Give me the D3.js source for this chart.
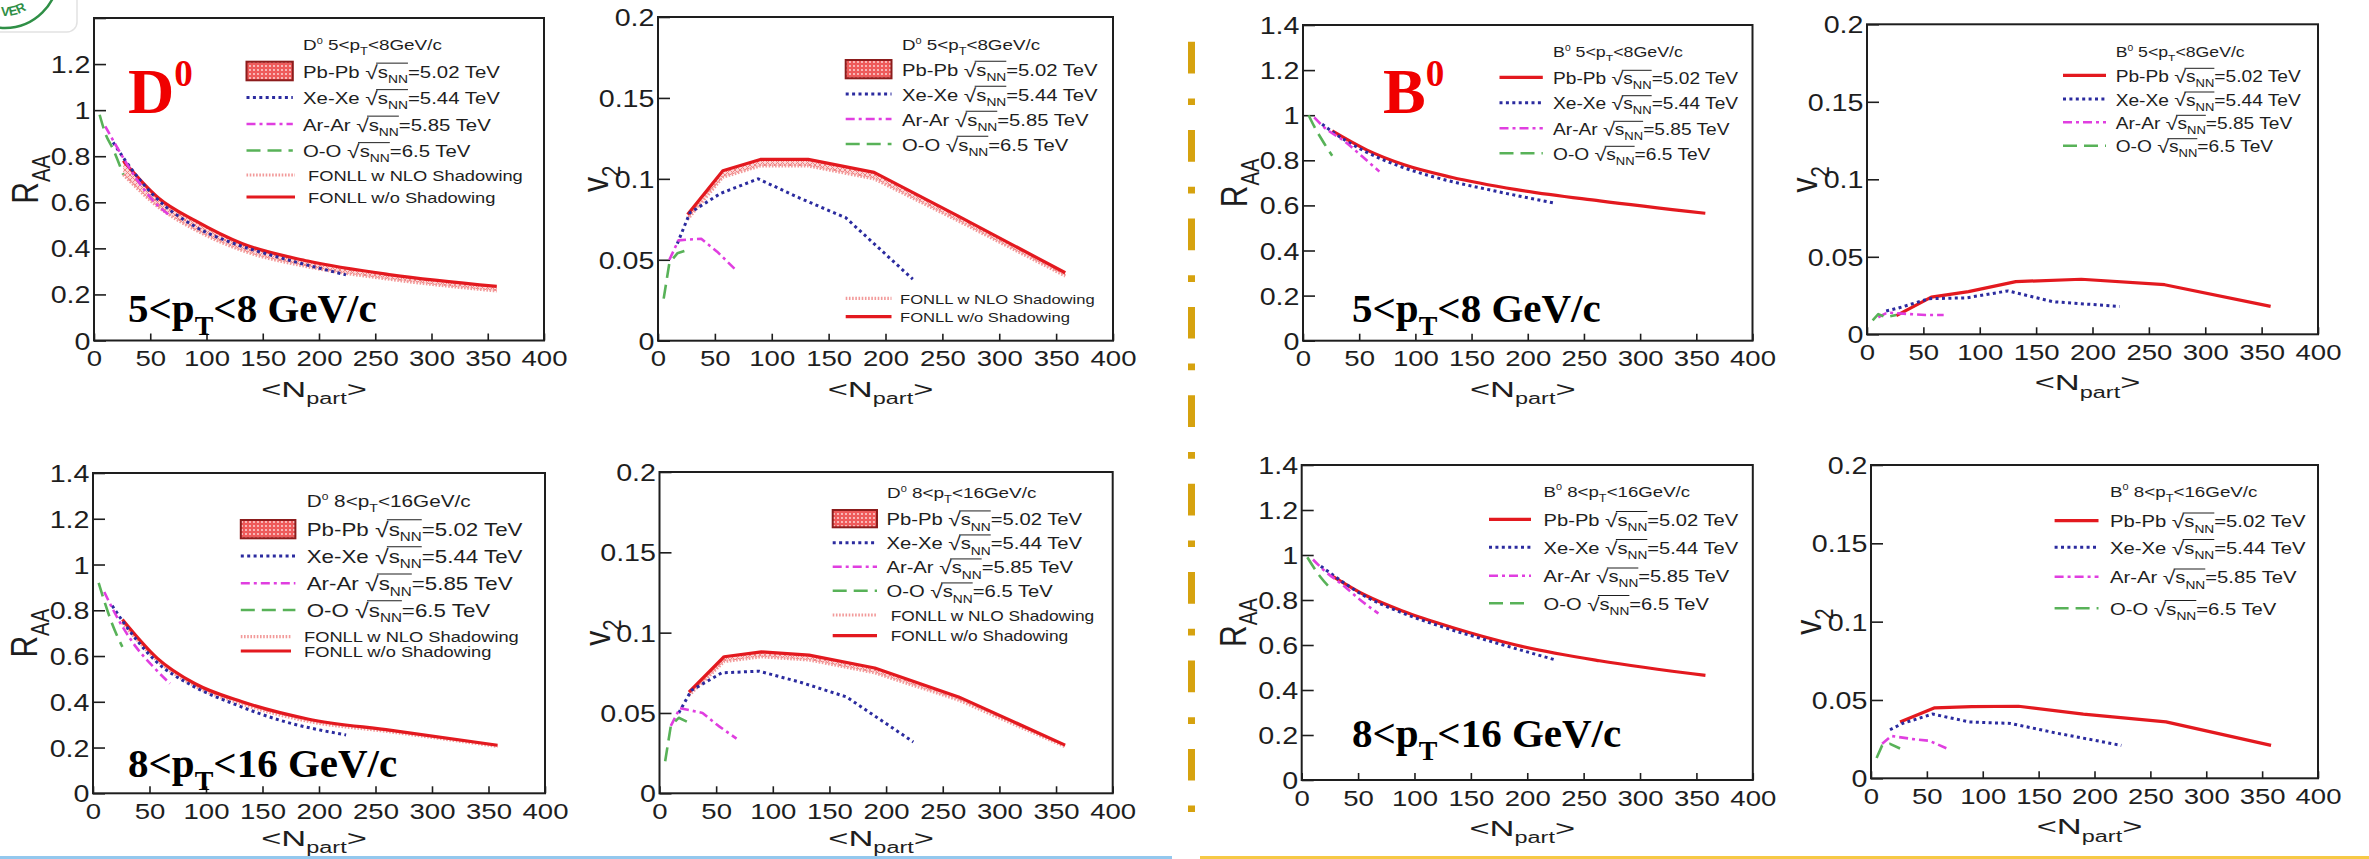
<!DOCTYPE html>
<html>
<head>
<meta charset="utf-8">
<script src="https://cdn.jsdelivr.net/npm/d3@7"></script>
<style>
  html, body { margin: 0; padding: 0; background: #fff; }
  svg { display: block; }
</style>
</head>
<body>
<svg id="fig" width="2369" height="859"></svg>
<script>
// ---------------- data ----------------
// participant numbers of the centrality classes for each collision system
const nPbPb = [26, 57, 90, 132, 190, 264, 358];
const nXeXe = [17, 28, 55, 88, 125, 165, 224];
const nArAr = [10, 18, 38, 52, 68];
const nOO   = [5, 10, 17, 26];

// axis ticks
const nTicks = [0, 50, 100, 150, 200, 250, 300, 350, 400];
const raaTicks = [0, 0.2, 0.4, 0.6, 0.8, 1.0, 1.2, 1.4];
const raaTickLabels = ["0", "0.2", "0.4", "0.6", "0.8", "1", "1.2", "1.4"];
const v2Ticks = [0, 0.05, 0.1, 0.15, 0.2];
const v2TickLabels = ["0", "0.05", "0.1", "0.15", "0.2"];

// collision systems in the legends
const systems  = ["Pb-Pb", "Xe-Xe", "Ar-Ar", "O-O"];
const energies = ["5.02", "5.44", "5.85", "6.5"];

// D0, 5 < pT < 8 GeV/c, R_AA
const raaD0a_PbNoShad = [0.78, 0.62, 0.52, 0.42, 0.345, 0.285, 0.235];
const raaD0a_PbShad   = [0.72, 0.58, 0.48, 0.39, 0.32, 0.265, 0.215];
const raaD0a_Xe = [0.86, 0.78, 0.62, 0.50, 0.42, 0.36, 0.285];
const raaD0a_Ar = [0.93, 0.86, 0.70, 0.61, 0.54];
const raaD0a_O  = [0.98, 0.90, 0.83, 0.72];

// D0, 5 < pT < 8 GeV/c, v2
const v2D0a_PbNoShad = [0.078, 0.105, 0.112, 0.112, 0.104, 0.077, 0.042];
const v2D0a_PbShad   = [0.075, 0.101, 0.108, 0.108, 0.100, 0.074, 0.040];
const v2D0a_Xe = [0.060, 0.079, 0.091, 0.100, 0.088, 0.076, 0.038];
const v2D0a_Ar = [0.050, 0.062, 0.063, 0.055, 0.044];
const v2D0a_O  = [0.026, 0.048, 0.054, 0.056];

// D0, 8 < pT < 16 GeV/c, R_AA
const raaD0b_PbNoShad = [0.76, 0.59, 0.48, 0.40, 0.325, 0.275, 0.21];
const raaD0b_PbShad   = [0.745, 0.58, 0.47, 0.39, 0.315, 0.268, 0.205];
const raaD0b_Xe = [0.82, 0.74, 0.58, 0.47, 0.39, 0.32, 0.255];
const raaD0b_Ar = [0.88, 0.80, 0.64, 0.56, 0.48];
const raaD0b_O  = [0.92, 0.84, 0.74, 0.64];

// D0, 8 < pT < 16 GeV/c, v2
const v2D0b_PbNoShad = [0.063, 0.085, 0.088, 0.086, 0.078, 0.060, 0.030];
const v2D0b_PbShad   = [0.061, 0.082, 0.085, 0.083, 0.075, 0.058, 0.029];
const v2D0b_Xe = [0.050, 0.064, 0.075, 0.076, 0.069, 0.060, 0.032];
const v2D0b_Ar = [0.042, 0.053, 0.050, 0.042, 0.034];
const v2D0b_O  = [0.020, 0.042, 0.047, 0.044];

// B0, 5 < pT < 8 GeV/c
const raaB0a_Pb = [0.93, 0.845, 0.78, 0.725, 0.67, 0.62, 0.565];
const raaB0a_Xe = [0.96, 0.92, 0.84, 0.77, 0.715, 0.67, 0.61];
const raaB0a_Ar = [0.99, 0.95, 0.88, 0.82, 0.75];
const raaB0a_O  = [1.0, 0.95, 0.89, 0.82];
const v2B0a_Pb = [0.012, 0.024, 0.0275, 0.034, 0.0355, 0.032, 0.018];
const v2B0a_Xe = [0.015, 0.017, 0.023, 0.0235, 0.028, 0.021, 0.018];
const v2B0a_Ar = [0.011, 0.014, 0.013, 0.0125, 0.0125];
const v2B0a_O  = [0.009, 0.013, 0.011, 0.0125];

// B0, 8 < pT < 16 GeV/c
const raaB0b_Pb = [0.91, 0.82, 0.75, 0.68, 0.60, 0.53, 0.465];
const raaB0b_Xe = [0.95, 0.91, 0.82, 0.745, 0.68, 0.62, 0.535];
const raaB0b_Ar = [0.98, 0.94, 0.86, 0.80, 0.74];
const raaB0b_O  = [0.99, 0.95, 0.90, 0.85];
const v2B0b_Pb = [0.036, 0.045, 0.0457, 0.046, 0.041, 0.036, 0.021];
const v2B0b_Xe = [0.031, 0.035, 0.041, 0.036, 0.035, 0.029, 0.021];
const v2B0b_Ar = [0.022, 0.027, 0.025, 0.024, 0.019];
const v2B0b_O  = [0.013, 0.021, 0.022, 0.019];

// ---------------- style ----------------
const SX = 1.22;                 // horizontal stretch of the figure text
const SANS = '"Liberation Sans", Arial, Helvetica, sans-serif';
const SERIF = '"Liberation Serif", "Times New Roman", serif';
const INK = "#1e1e1e";
const styles = {
  pb:     { stroke: "#e3191f", width: 3.2, dash: null },
  pbShad: { stroke: "#f29a9a", width: 3.2, dash: "1.6,1.6" },
  xe:     { stroke: "#2b2b9f", width: 3,   dash: "3,3.4" },
  ar:     { stroke: "#e03ee0", width: 2.6, dash: "9,4,3,4" },
  oo:     { stroke: "#58b258", width: 2.6, dash: "14,7" }
};

const svg = d3.select("#fig");
const defs = svg.append("defs");

// hatch used for the Pb-Pb band and its legend box
const band = defs.append("pattern").attr("id", "bandHatch")
  .attr("patternUnits", "userSpaceOnUse").attr("width", 5).attr("height", 5);
band.append("rect").attr("width", 5).attr("height", 5).attr("fill", "#fbd3d3");
band.append("path").attr("d", "M0,0L5,5M5,0L0,5").attr("stroke", "#ef7474").attr("stroke-width", 1);

const boxp = defs.append("pattern").attr("id", "boxHatch")
  .attr("patternUnits", "userSpaceOnUse").attr("width", 4).attr("height", 4);
boxp.append("rect").attr("width", 4).attr("height", 4).attr("fill", "#ee5b5b");
boxp.append("circle").attr("cx", 2).attr("cy", 2).attr("r", 0.9).attr("fill", "#fde3e3");

// text with sub/superscripts and a square-root bar, stretched horizontally
function richText(parent, x, y, parts, o) {
  const sx = o.sx != null ? o.sx : SX;
  const g = parent.append("g")
    .attr("transform", `translate(${x},${y}) scale(${sx},1)` + (o.rot ? ` rotate(${o.rot})` : ""));
  const t = g.append("text")
    .attr("font-family", o.family || SANS)
    .attr("font-size", o.size)
    .attr("font-weight", o.weight || "normal")
    .attr("fill", o.fill || INK)
    .attr("text-anchor", o.anchor || "start");
  let shift = 0, idx = 0, ov0 = -1, ov1 = -1;
  for (const [s, k] of parts) {
    let target = 0, fs = o.size;
    if (k === "sub" || k === "subov") { target = o.size * 0.32; fs = o.size * 0.68; }
    else if (k === "sup") { target = -o.size * 0.42; fs = o.size * 0.58; }
    else if (k === "rad") { target = o.size * 0.06; fs = o.size * 1.12; }
    t.append("tspan").attr("dy", (target - shift).toFixed(2)).attr("font-size", fs).text(s);
    shift = target;
    if (k === "ov" || k === "subov") { if (ov0 < 0) ov0 = idx; ov1 = idx + s.length - 1; }
    idx += s.length;
  }
  if (ov0 >= 0) {
    const n = t.node();
    const xa = n.getStartPositionOfChar(ov0).x - o.size * 0.08;
    const xb = n.getEndPositionOfChar(ov1).x;
    const yb = -o.size * 0.86;
    g.append("line").attr("x1", xa).attr("x2", xb).attr("y1", yb).attr("y2", yb)
      .attr("stroke", o.fill || INK).attr("stroke-width", 1);
  }
  return t;
}

function sysParts(i) {
  return [[systems[i] + " ", "n"], ["\u221A", "rad"], ["s", "ov"], ["NN", "subov"], ["=" + energies[i] + " TeV", "n"]];
}

// ---------------- panels ----------------
const panels = [
  { f: { l: 94, r: 544, t: 18, b: 340.5 }, kind: "raa", meson: "D", pt: ["5", "8"], topLabelHidden: true,
    pb: raaD0a_PbNoShad, pbShad: raaD0a_PbShad, xe: raaD0a_Xe, ar: raaD0a_Ar, oo: raaD0a_O,
    leg: { hx: 303, hy: 50, hs: 15.5, ls: 16.7, m: [246.5, 292.8], tx: 303, rows: [71, 97.5, 124, 150.5],
           box: [61.7, 80.3], fonll: { m: [246.5, 295], tx: 308, rows: [175, 197], s: 15 } } },
  { f: { l: 658, r: 1113, t: 17, b: 340.7 }, kind: "v2", meson: "D", pt: ["5", "8"],
    pb: v2D0a_PbNoShad, pbShad: v2D0a_PbShad, xe: v2D0a_Xe, ar: v2D0a_Ar, oo: v2D0a_O,
    leg: { hx: 902, hy: 50, hs: 15.4, ls: 16.6, m: [845.7, 891.5], tx: 902, rows: [69, 94, 119, 144],
           box: [60, 78.3], fonll: { m: [845.7, 891.5], tx: 900, rows: [298.3, 316.7], s: 13.6 } } },
  { f: { l: 1303, r: 1752.5, t: 25, b: 340.7 }, kind: "raa", meson: "B", pt: ["5", "8"],
    pb: raaB0a_Pb, xe: raaB0a_Xe, ar: raaB0a_Ar, oo: raaB0a_O,
    leg: { hx: 1553, hy: 56.7, hs: 14.6, ls: 15.7, m: [1499.5, 1542.8], tx: 1553, rows: [77.3, 102.7, 128.3, 153.3] } },
  { f: { l: 1867, r: 2318, t: 24.3, b: 334.3 }, kind: "v2", meson: "B", pt: ["5", "8"],
    pb: v2B0a_Pb, xe: v2B0a_Xe, ar: v2B0a_Ar, oo: v2B0a_O,
    leg: { hx: 2115.7, hy: 56.7, hs: 14.5, ls: 15.7, m: [2063, 2106], tx: 2115.7, rows: [75.3, 99, 122.3, 145.7] } },
  { f: { l: 93, r: 545, t: 473, b: 793.3 }, kind: "raa", meson: "D", pt: ["8", "16"],
    pb: raaD0b_PbNoShad, pbShad: raaD0b_PbShad, xe: raaD0b_Xe, ar: raaD0b_Ar, oo: raaD0b_O,
    leg: { hx: 306.7, hy: 506.7, hs: 17, ls: 18.3, m: [240.8, 295.4], tx: 306.7, rows: [529, 556, 583.3, 610],
           box: [520, 538.3], fonll: { m: [240.8, 291], tx: 304, rows: [636.7, 651], s: 15 } } },
  { f: { l: 659.5, r: 1112.7, t: 472, b: 793.3 }, kind: "v2", meson: "D", pt: ["8", "16"],
    pb: v2D0b_PbNoShad, pbShad: v2D0b_PbShad, xe: v2D0b_Xe, ar: v2D0b_Ar, oo: v2D0b_O,
    leg: { hx: 887, hy: 498.3, hs: 15.5, ls: 16.6, m: [832.7, 877], tx: 886.4, rows: [518.7, 542.7, 566.7, 590.7],
           box: [510, 527.3], fonll: { m: [832.7, 877], tx: 890.8, rows: [615, 635.7], s: 14.2 } } },
  { f: { l: 1301.7, r: 1752.8, t: 465, b: 780 }, kind: "raa", meson: "B", pt: ["8", "16"],
    pb: raaB0b_Pb, xe: raaB0b_Xe, ar: raaB0b_Ar, oo: raaB0b_O,
    leg: { hx: 1543.6, hy: 496.7, hs: 15.3, ls: 16.5, m: [1489, 1531], tx: 1543.6, rows: [519.3, 547.3, 575.7, 603.3] } },
  { f: { l: 1871, r: 2318, t: 465, b: 778.3 }, kind: "v2", meson: "B", pt: ["8", "16"],
    pb: v2B0b_Pb, xe: v2B0b_Xe, ar: v2B0b_Ar, oo: v2B0b_O,
    leg: { hx: 2110, hy: 496.7, hs: 15.4, ls: 16.6, m: [2054.6, 2098.5], tx: 2110, rows: [520.7, 547.3, 576.7, 608.3] } }
];

function styled(sel, st) {
  sel.attr("fill", "none").attr("stroke", st.stroke).attr("stroke-width", st.width)
    .attr("stroke-dasharray", st.dash).attr("stroke-linejoin", "round");
  return sel;
}

panels.forEach(p => {
  const f = p.f;
  const g = svg.append("g");
  const x = d3.scaleLinear().domain([0, 400]).range([f.l, f.r]);
  const y = d3.scaleLinear().domain(p.kind === "raa" ? [0, 1.4] : [0, 0.2]).range([f.b, f.t]);
  const curve = p.kind === "raa" ? d3.curveMonotoneX : d3.curveLinear;
  const line = d3.line().x(d => x(d[0])).y(d => y(d[1])).curve(curve);
  const pts = (ns, vs) => ns.map((n, i) => [n, vs[i]]);

  // frame
  g.append("rect").attr("x", f.l).attr("y", f.t).attr("width", f.r - f.l).attr("height", f.b - f.t)
    .attr("fill", "#fff").attr("stroke", INK).attr("stroke-width", 2);

  // x axis (ticks pointing into the frame)
  const gx = g.append("g").attr("transform", `translate(0,${f.b})`)
    .call(d3.axisBottom(x).tickValues(nTicks).tickSize(-7).tickSizeOuter(0).tickFormat(d3.format("d")));
  gx.select(".domain").remove();
  gx.selectAll("line").attr("stroke", INK).attr("stroke-width", 1.6);
  gx.selectAll("text").attr("y", null).attr("dy", null)
    .attr("transform", `translate(0,25.5) scale(${SX},1)`)
    .attr("font-size", 22.6).attr("font-family", SANS).attr("fill", INK);

  // y axis
  const yt = p.kind === "raa" ? raaTicks : v2Ticks;
  const yl = (p.kind === "raa" ? raaTickLabels : v2TickLabels)
    .map((s, i, a) => (p.topLabelHidden && i === a.length - 1) ? "" : s);
  const gy = g.append("g").attr("transform", `translate(${f.l},0)`)
    .call(d3.axisLeft(y).tickValues(yt).tickSize(-12).tickSizeOuter(0).tickFormat((d, i) => yl[i]));
  gy.select(".domain").remove();
  gy.selectAll("line").attr("stroke", INK).attr("stroke-width", 1.6);
  gy.selectAll("text").attr("x", null).attr("dy", null)
    .attr("transform", `translate(-3.5,8.5) scale(${SX},1)`)
    .attr("font-size", 23.5).attr("font-family", SANS).attr("fill", INK);

  // axis titles
  const cx = (f.l + f.r) / 2, cy = (f.t + f.b) / 2;
  richText(g, cx - 5, Math.min(f.b + 56, 846), [["<N", "n"], ["part", "sub"], [">", "n"]], { size: 23, sx: 1.5, anchor: "middle" });
  if (p.kind === "raa") {
    richText(g, f.l - 56, cy, [["R", "n"], ["AA", "sub"]], { size: 30, anchor: "middle", rot: -90 });
  } else {
    richText(g, f.l - 50, cy, [["v", "n"], ["2", "sub"]], { size: 30, anchor: "middle", rot: -90 });
  }

  // curves
  if (p.pbShad) {
    const bandData = nPbPb.map((n, i) => ({ n, lo: p.pbShad[i], hi: p.pb[i] }));
    g.append("path").datum(bandData)
      .attr("d", d3.area().x(d => x(d.n)).y0(d => y(d.lo)).y1(d => y(d.hi)).curve(curve))
      .attr("fill", "url(#bandHatch)").attr("opacity", 0.9);
    styled(g.append("path").datum(pts(nPbPb, p.pbShad)).attr("d", line), styles.pbShad);
  }
  styled(g.append("path").datum(pts(nPbPb, p.pb)).attr("d", line), styles.pb);
  styled(g.append("path").datum(pts(nXeXe, p.xe)).attr("d", line), styles.xe);
  styled(g.append("path").datum(pts(nArAr, p.ar)).attr("d", line), styles.ar);
  styled(g.append("path").datum(pts(nOO, p.oo)).attr("d", line), styles.oo);

  // legend
  const L = p.leg;
  richText(g, L.hx, L.hy, [[p.meson, "n"], ["0", "sup"], [" " + p.pt[0] + "<p", "n"], ["T", "sub"], ["<" + p.pt[1] + "GeV/c", "n"]],
    { size: L.hs });
  const keys = ["pb", "xe", "ar", "oo"];
  keys.forEach((k, i) => {
    const yy = L.rows[i];
    if (k === "pb" && L.box) {
      g.append("rect").attr("x", L.m[0]).attr("y", L.box[0]).attr("width", L.m[1] - L.m[0]).attr("height", L.box[1] - L.box[0])
        .attr("fill", "url(#boxHatch)").attr("stroke", "#8c1c1c").attr("stroke-width", 2);
    } else {
      styled(g.append("line").attr("x1", L.m[0]).attr("x2", L.m[1]).attr("y1", yy).attr("y2", yy), styles[k]);
    }
    richText(g, L.tx, yy + 6.5, sysParts(i), { size: L.ls });
  });
  if (L.fonll) {
    const F = L.fonll;
    const labels = ["FONLL w NLO Shadowing", "FONLL w/o Shadowing"];
    [styles.pbShad, styles.pb].forEach((st, i) => {
      styled(g.append("line").attr("x1", F.m[0]).attr("x2", F.m[1]).attr("y1", F.rows[i]).attr("y2", F.rows[i]), st);
      richText(g, F.tx, F.rows[i] + 5.5, [[labels[i], "n"]], { size: F.s });
    });
  }
});

// ---------------- slide annotations ----------------
const notes = svg.append("g");
function mesonTag(xp, yp, letter) {
  richText(notes, xp, yp, [[letter, "n"], ["0", "sup"]], { size: 64, sx: 1, family: SERIF, weight: "bold", fill: "#f00000" });
}
mesonTag(128, 113, "D");
mesonTag(1383, 113, "B");
function ptTag(xp, yp, lo, hi) {
  richText(notes, xp, yp, [[lo + "<p", "n"], ["T", "sub"], ["<" + hi + " GeV/c", "n"]],
    { size: 41, sx: 1, family: SERIF, weight: "bold", fill: "#000" });
}
ptTag(128, 321.7, "5", "8");
ptTag(1352, 321.7, "5", "8");
ptTag(128, 776.7, "8", "16");
ptTag(1352, 746.7, "8", "16");

// dash-dot divider between the D and B halves
notes.append("line").attr("x1", 1191.5).attr("x2", 1191.5).attr("y1", 41.7).attr("y2", 812)
  .attr("stroke", "#d6a20f").attr("stroke-width", 7).attr("stroke-dasharray", "31.7,25,6.7,25");

// bottom rules of the two halves
notes.append("line").attr("x1", 0).attr("x2", 1172).attr("y1", 857.5).attr("y2", 857.5)
  .attr("stroke", "#93c8ee").attr("stroke-width", 3);
notes.append("line").attr("x1", 1200).attr("x2", 2369).attr("y1", 857.5).attr("y2", 857.5)
  .attr("stroke", "#f6c945").attr("stroke-width", 3);

// corner emblem
const logo = svg.append("g");
logo.append("rect").attr("x", -12).attr("y", -12).attr("width", 89).attr("height", 44).attr("rx", 10)
  .attr("fill", "#fff").attr("stroke", "#e2e2e2").attr("stroke-width", 1.5);
logo.append("circle").attr("cx", 5).attr("cy", -25).attr("r", 53).attr("fill", "none")
  .attr("stroke", "#2f8f46").attr("stroke-width", 2.5);
const arcR = 41, a0 = 97 * Math.PI / 180, a1 = 10 * Math.PI / 180;
defs.append("path").attr("id", "emblemArc")
  .attr("d", `M${5 + arcR * Math.cos(a0)},${-25 + arcR * Math.sin(a0)} A${arcR},${arcR} 0 0 0 ${5 + arcR * Math.cos(a1)},${-25 + arcR * Math.sin(a1)}`);
logo.append("text").attr("font-family", SANS).attr("font-size", 13).attr("font-weight", "bold").attr("fill", "#2f8f46")
  .append("textPath").attr("href", "#emblemArc").attr("startOffset", 1).text("VER");
</script>
</body>
</html>
